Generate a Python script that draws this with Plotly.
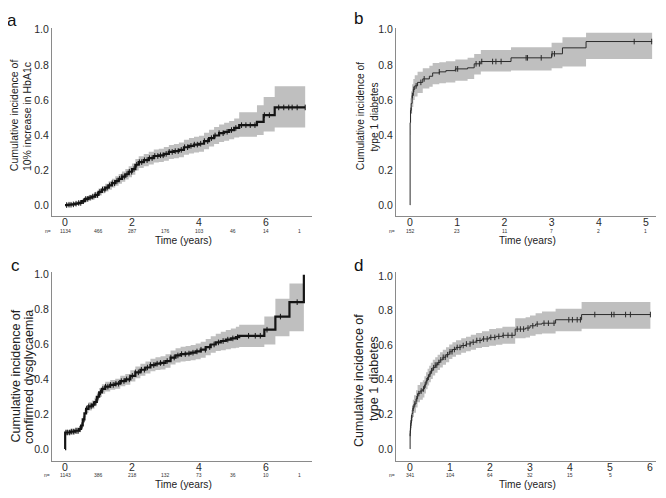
import numpy as np
import plotly.graph_objects as go

# ---------------- panel a : 10% increase in HbA1c ----------------
a_t = [0.00, 0.10, 0.20, 0.30, 0.40, 0.50, 0.60, 0.70, 0.80, 0.90, 1.00, 1.10, 1.20, 1.30,
       1.40, 1.50, 1.60, 1.70, 1.80, 1.90, 2.00, 2.10, 2.20, 2.35, 2.50, 2.65, 2.80, 2.95,
       3.10, 3.25, 3.40, 3.55, 3.70, 3.85, 4.00, 4.15, 4.30, 4.45, 4.60, 4.75, 4.90, 5.05,
       5.20, 5.73, 5.93, 6.26, 7.17]
a_est = [0.000, 0.002, 0.004, 0.008, 0.012, 0.022, 0.035, 0.042, 0.048, 0.058, 0.075, 0.088,
         0.100, 0.112, 0.125, 0.137, 0.150, 0.162, 0.176, 0.190, 0.205, 0.230, 0.245, 0.256,
         0.268, 0.280, 0.284, 0.292, 0.303, 0.308, 0.315, 0.330, 0.338, 0.345, 0.350, 0.365,
         0.382, 0.397, 0.410, 0.418, 0.428, 0.440, 0.456, 0.475, 0.513, 0.557, 0.557]
a_lo = [0.000, 0.000, 0.000, 0.002, 0.004, 0.012, 0.023, 0.028, 0.032, 0.040, 0.055, 0.067,
        0.078, 0.088, 0.100, 0.110, 0.122, 0.133, 0.146, 0.159, 0.173, 0.197, 0.211, 0.221,
        0.232, 0.243, 0.246, 0.253, 0.263, 0.267, 0.273, 0.287, 0.294, 0.300, 0.304, 0.318,
        0.334, 0.348, 0.360, 0.367, 0.376, 0.386, 0.390, 0.400, 0.420, 0.443, 0.443]
a_hi = [0.003, 0.006, 0.009, 0.014, 0.020, 0.032, 0.047, 0.056, 0.064, 0.076, 0.095, 0.109,
        0.122, 0.136, 0.150, 0.164, 0.178, 0.191, 0.206, 0.221, 0.237, 0.263, 0.279, 0.291,
        0.304, 0.317, 0.322, 0.331, 0.343, 0.349, 0.357, 0.373, 0.382, 0.390, 0.396, 0.412,
        0.430, 0.446, 0.460, 0.469, 0.480, 0.494, 0.530, 0.570, 0.617, 0.678, 0.678]
a_cens = [0.05, 0.12, 0.18, 0.25, 0.33, 0.41, 0.47, 0.55, 0.62, 0.68, 0.75, 0.83, 0.90, 0.97,
          1.04, 1.12, 1.19, 1.26, 1.33, 1.41, 1.48, 1.55, 1.63, 1.70, 1.77, 1.85, 1.92, 1.99,
          2.06, 2.14, 2.22, 2.29, 2.37, 2.45, 2.52, 2.60, 2.68, 2.77, 2.85, 2.93, 3.02, 3.11,
          3.20, 3.29, 3.38, 3.47, 3.57, 3.66, 3.76, 3.86, 3.95, 4.05, 4.16, 4.26, 4.37, 4.48,
          4.60, 4.72, 4.84, 4.97, 5.10, 5.27, 5.40, 5.53, 5.67, 5.95, 6.10, 6.38, 6.53, 6.68,
          6.78, 6.93, 7.17]
a_risk_t = [0, 1, 2, 3, 4, 5, 6, 7]
a_risk_n = [1134, 466, 287, 176, 103, 46, 14, 1]

# ---------------- panel b : type 1 diabetes ----------------
b_t = [0.000, 0.002, 0.010, 0.025, 0.045, 0.070, 0.100, 0.160, 0.270, 0.410, 0.480, 0.620,
       0.760, 0.960, 1.220, 1.360, 1.500, 2.140, 3.000, 3.230, 3.730, 5.130]
b_est = [0.000, 0.470, 0.540, 0.580, 0.625, 0.660, 0.680, 0.700, 0.720, 0.735, 0.754, 0.760,
         0.767, 0.777, 0.783, 0.806, 0.819, 0.840, 0.863, 0.897, 0.933, 0.933]
b_lo = [0.000, 0.400, 0.470, 0.520, 0.560, 0.600, 0.620, 0.640, 0.665, 0.675, 0.690, 0.695,
        0.700, 0.710, 0.720, 0.745, 0.762, 0.768, 0.780, 0.790, 0.834, 0.834]
b_hi = [0.000, 0.540, 0.610, 0.650, 0.690, 0.720, 0.740, 0.760, 0.780, 0.795, 0.810, 0.815,
        0.820, 0.830, 0.840, 0.862, 0.885, 0.900, 0.926, 0.958, 0.983, 0.983]
b_cens = [0.02, 0.05, 0.08, 0.13, 0.23, 0.30, 0.62, 0.97, 1.01, 1.40, 1.47, 1.52, 1.75, 1.82,
          1.93, 2.46, 2.49, 2.78, 3.01, 3.06, 4.75, 5.12]
b_risk_t = [0, 1, 2, 3, 4, 5]
b_risk_n = [152, 23, 11, 7, 2, 1]

# ---------------- panel c : confirmed dysglycaemia ----------------
c_t = [0.000, 0.005, 0.15, 0.30, 0.42, 0.48, 0.53, 0.58, 0.63, 0.70, 0.80, 0.88, 0.95, 1.02,
       1.10, 1.20, 1.35, 1.50, 1.65, 1.80, 1.95, 2.10, 2.25, 2.40, 2.55, 2.70, 2.85, 3.00,
       3.15, 3.30, 3.45, 3.60, 3.75, 3.90, 4.05, 4.20, 4.35, 4.50, 4.65, 4.80, 4.95, 5.10,
       5.20, 5.95, 6.28, 6.70, 7.13]
c_est = [0.000, 0.095, 0.100, 0.105, 0.115, 0.135, 0.170, 0.205, 0.230, 0.245, 0.255, 0.270,
         0.300, 0.325, 0.345, 0.358, 0.368, 0.375, 0.390, 0.400, 0.420, 0.440, 0.455, 0.468,
         0.482, 0.490, 0.494, 0.505, 0.525, 0.537, 0.545, 0.548, 0.553, 0.560, 0.570, 0.585,
         0.600, 0.612, 0.620, 0.628, 0.635, 0.642, 0.650, 0.685, 0.760, 0.843, 1.000]
c_lo = [0.000, 0.080, 0.083, 0.087, 0.096, 0.115, 0.149, 0.183, 0.207, 0.221, 0.231, 0.245,
        0.275, 0.299, 0.318, 0.330, 0.340, 0.346, 0.360, 0.369, 0.388, 0.407, 0.421, 0.433,
        0.446, 0.453, 0.456, 0.466, 0.485, 0.496, 0.503, 0.505, 0.509, 0.515, 0.524, 0.538,
        0.552, 0.562, 0.567, 0.573, 0.578, 0.582, 0.585, 0.600, 0.648, 0.676, 0.676]
c_hi = [0.000, 0.110, 0.117, 0.123, 0.134, 0.155, 0.191, 0.227, 0.253, 0.269, 0.279, 0.295,
        0.325, 0.351, 0.372, 0.386, 0.396, 0.404, 0.420, 0.431, 0.452, 0.473, 0.489, 0.503,
        0.518, 0.527, 0.532, 0.544, 0.565, 0.578, 0.587, 0.591, 0.597, 0.605, 0.616, 0.632,
        0.648, 0.662, 0.673, 0.683, 0.692, 0.702, 0.714, 0.760, 0.862, 0.950, 0.950]
c_cens = [0.03, 0.08, 0.14, 0.20, 0.26, 0.33, 0.39, 0.45, 0.51, 0.57, 0.64, 0.71, 0.78, 0.85,
          0.92, 0.99, 1.06, 1.13, 1.21, 1.28, 1.36, 1.44, 1.52, 1.60, 1.68, 1.76, 1.84, 1.92,
          2.01, 2.10, 2.19, 2.28, 2.37, 2.46, 2.55, 2.65, 2.75, 2.85, 2.95, 3.05, 3.16, 3.26,
          3.37, 3.48, 3.59, 3.70, 3.82, 3.94, 4.06, 4.19, 4.32, 4.45, 4.58, 4.72, 4.86, 5.01,
          5.15, 5.48, 5.68, 5.83, 6.03, 6.43, 6.93]
c_risk_t = [0, 1, 2, 3, 4, 5, 6, 7]
c_risk_n = [1143, 386, 218, 132, 73, 36, 10, 1]

# ---------------- panel d : type 1 diabetes ----------------
d_t = [0.000, 0.003, 0.010, 0.020, 0.035, 0.050, 0.070, 0.100, 0.150, 0.190, 0.250, 0.320,
       0.360, 0.400, 0.440, 0.480, 0.520, 0.570, 0.630, 0.690, 0.750, 0.820, 0.900, 0.980,
       1.060, 1.150, 1.280, 1.400, 1.520, 1.650, 1.800, 1.980, 2.150, 2.310, 2.630, 2.890,
       3.000, 3.140, 3.300, 3.640, 4.290, 6.010]
d_est = [0.000, 0.090, 0.120, 0.150, 0.180, 0.205, 0.235, 0.260, 0.290, 0.320, 0.335, 0.347,
         0.370, 0.394, 0.415, 0.433, 0.452, 0.470, 0.485, 0.500, 0.515, 0.530, 0.545, 0.562,
         0.575, 0.587, 0.598, 0.607, 0.617, 0.627, 0.636, 0.645, 0.651, 0.657, 0.693, 0.699,
         0.712, 0.722, 0.727, 0.747, 0.777, 0.777]
d_lo = [0.000, 0.060, 0.085, 0.110, 0.135, 0.160, 0.185, 0.210, 0.240, 0.270, 0.285, 0.297,
        0.320, 0.345, 0.367, 0.385, 0.405, 0.424, 0.440, 0.456, 0.471, 0.487, 0.502, 0.520,
        0.533, 0.545, 0.556, 0.565, 0.574, 0.583, 0.590, 0.597, 0.603, 0.608, 0.640, 0.645,
        0.655, 0.663, 0.668, 0.680, 0.695, 0.695]
d_hi = [0.000, 0.120, 0.155, 0.190, 0.225, 0.250, 0.285, 0.310, 0.340, 0.370, 0.385, 0.397,
        0.420, 0.443, 0.463, 0.481, 0.499, 0.516, 0.530, 0.544, 0.559, 0.573, 0.588, 0.604,
        0.617, 0.629, 0.640, 0.649, 0.660, 0.671, 0.680, 0.693, 0.698, 0.706, 0.755, 0.762,
        0.772, 0.785, 0.795, 0.810, 0.850, 0.850]
d_cens = [0.004, 0.012, 0.022, 0.04, 0.08, 0.12, 0.17, 0.22, 0.28, 0.34, 0.38, 0.42, 0.46,
          0.50, 0.54, 0.59, 0.63, 0.67, 0.72, 0.77, 0.83, 0.88, 0.94, 1.00, 1.05, 1.11, 1.18,
          1.25, 1.33, 1.41, 1.50, 1.58, 1.67, 1.75, 1.84, 1.93, 2.02, 2.12, 2.22, 2.33, 2.45,
          2.55, 2.68, 2.76, 2.84, 2.95, 3.07, 3.18, 3.35, 3.46, 3.60, 3.97, 4.06, 4.18, 4.26,
          4.62, 5.04, 5.10, 5.39, 5.51, 6.01]
d_risk_t = [0, 1, 2, 3, 4, 5]
d_risk_n = [341, 104, 64, 32, 15, 5]

BAND = "#bfbfbf"
LINE = "#141414"
AXIS = "#8a8a8a"
FONT = "Liberation Sans, Arial, sans-serif"
# the page body keeps its default 8px margin, so the figure sits at (8, 8) in the window
OFF = 8
W, H = 666 - 2 * OFF, 498 - 2 * OFF


def fx(p):
    return (p - OFF) / W


def fy(p):
    return 1 - (p - OFF) / H


def step_value(t, est, times):
    t = np.asarray(t)
    idx = np.searchsorted(t, np.asarray(times), side="right") - 1
    return np.asarray(est)[np.clip(idx, 0, len(est) - 1)]


fig = go.Figure()

panels = [
    # data, axis suffix, line width, line colour, tick size
    (a_t, a_est, a_lo, a_hi, a_cens, "", 2.2, LINE, 4),
    (b_t, b_est, b_lo, b_hi, b_cens, "2", 1.0, "#2b2b2b", 4),
    (c_t, c_est, c_lo, c_hi, c_cens, "3", 2.2, LINE, 4),
    (d_t, d_est, d_lo, d_hi, d_cens, "4", 1.0, "#2b2b2b", 4),
]

for t, est, lo, hi, cens, ax, lw, col, ms in panels:
    xa, ya = "x" + ax, "y" + ax
    fig.add_trace(go.Scatter(x=t, y=lo, mode="lines", line=dict(width=0, shape="hv"),
                             xaxis=xa, yaxis=ya, hoverinfo="skip", showlegend=False))
    fig.add_trace(go.Scatter(x=t, y=hi, mode="lines", line=dict(width=0, shape="hv"),
                             fill="tonexty", fillcolor=BAND,
                             xaxis=xa, yaxis=ya, hoverinfo="skip", showlegend=False))
    fig.add_trace(go.Scatter(x=t, y=est, mode="lines", line=dict(color=col, width=lw, shape="hv"),
                             xaxis=xa, yaxis=ya, showlegend=False))
    fig.add_trace(go.Scatter(x=cens, y=step_value(t, est, cens), mode="markers",
                             marker=dict(symbol="line-ns", size=ms, line=dict(color=col, width=1)),
                             xaxis=xa, yaxis=ya, showlegend=False))

# axis geometry (pixels of the 666x498 picture)
geo = {
    "":  dict(x0=52, x1=312, y0=214, y1=24, xr=[-0.388, 7.373], yr=[-0.064, 1.011], dt=2),
    "2": dict(x0=396, x1=656, y0=214, y1=24, xr=[-0.297, 5.212], yr=[-0.064, 1.011], dt=1),
    "3": dict(x0=52, x1=312, y0=461, y1=270, xr=[-0.388, 7.373], yr=[-0.070, 1.017], dt=2),
    "4": dict(x0=396, x1=656, y0=461, y1=270, xr=[-0.350, 6.150], yr=[-0.071, 1.024], dt=1),
}

tickfont = dict(family=FONT, size=10.5, color="#2a2a2a")
for ax, g in geo.items():
    fig.layout["xaxis" + ax] = dict(
        domain=[fx(g["x0"]), fx(g["x1"])], range=g["xr"], anchor="y" + ax,
        showgrid=False, zeroline=False, showline=True, linecolor=AXIS, linewidth=1,
        ticks="", dtick=g["dt"], tick0=0, tickfont=tickfont, ticklabelstandoff=-4)
    fig.layout["yaxis" + ax] = dict(
        domain=[fy(g["y0"]), fy(g["y1"])], range=g["yr"], anchor="x" + ax,
        showgrid=False, zeroline=False, showline=True, linecolor=AXIS, linewidth=1,
        ticks="", dtick=0.2, tick0=0, tickformat=".1f", tickfont=tickfont)

ann = []
# panel letters
for txt, x, y in [("a", 12, 17), ("b", 358, 15), ("c", 15, 264), ("d", 358, 264)]:
    ann.append(dict(text=txt, x=fx(x), y=fy(y), xref="paper", yref="paper", showarrow=False,
                    xanchor="center", yanchor="middle", font=dict(family=FONT, size=17, color="#111")))

# y titles, one annotation per line
ytitles = [
    ("Cumulative incidence of", 14, 112, 10.5),
    ("10% increase in HbA1c", 27, 114, 10.5),
    ("Cumulative incidence of", 360, 113, 10.2),
    ("type 1 diabetes", 374.5, 114, 10.2),
    ("Cumulative incidence of", 15.5, 375, 12.5),
    ("confirmed dysglycaemia", 29, 376, 12.5),
    ("Cumulative incidence of", 359, 380, 12.5),
    ("type 1 diabetes", 374, 377, 12.5),
]
for txt, x, y, s in ytitles:
    ann.append(dict(text=txt, x=fx(x), y=fy(y), xref="paper", yref="paper", showarrow=False,
                    textangle=-90, xanchor="center", yanchor="middle",
                    font=dict(family=FONT, size=s, color="#222")))

# x titles and numbers at risk
risk = [("", a_risk_t, a_risk_n, 229, 238.5, 48),
        ("2", b_risk_t, b_risk_n, 229, 238.5, 392),
        ("3", c_risk_t, c_risk_n, 475, 484.5, 47),
        ("4", d_risk_t, d_risk_n, 475, 484.5, 392)]
for ax, rt, rn, ry, ty, nx in risk:
    g = geo[ax]
    ann.append(dict(text="Time (years)", x=fx((g["x0"] + g["x1"]) / 2 + 1), y=fy(ty),
                    xref="paper", yref="paper", showarrow=False, xanchor="center", yanchor="middle",
                    font=dict(family=FONT, size=10.2, color="#222")))
    ann.append(dict(text="n=", x=fx(nx), y=fy(ry), xref="paper", yref="paper", showarrow=False,
                    xanchor="center", yanchor="middle", font=dict(family=FONT, size=5, color="#333")))
    for t, n in zip(rt, rn):
        ann.append(dict(text=str(n), x=t, y=fy(ry), xref="x" + ax, yref="paper", showarrow=False,
                        xanchor="center", yanchor="middle", font=dict(family=FONT, size=5, color="#333")))

fig.update_layout(width=W, height=H, margin=dict(l=0, r=0, t=0, b=0),
                  paper_bgcolor="white", plot_bgcolor="white", annotations=ann,
                  font=dict(family=FONT))

fig.write_html("out.html")
